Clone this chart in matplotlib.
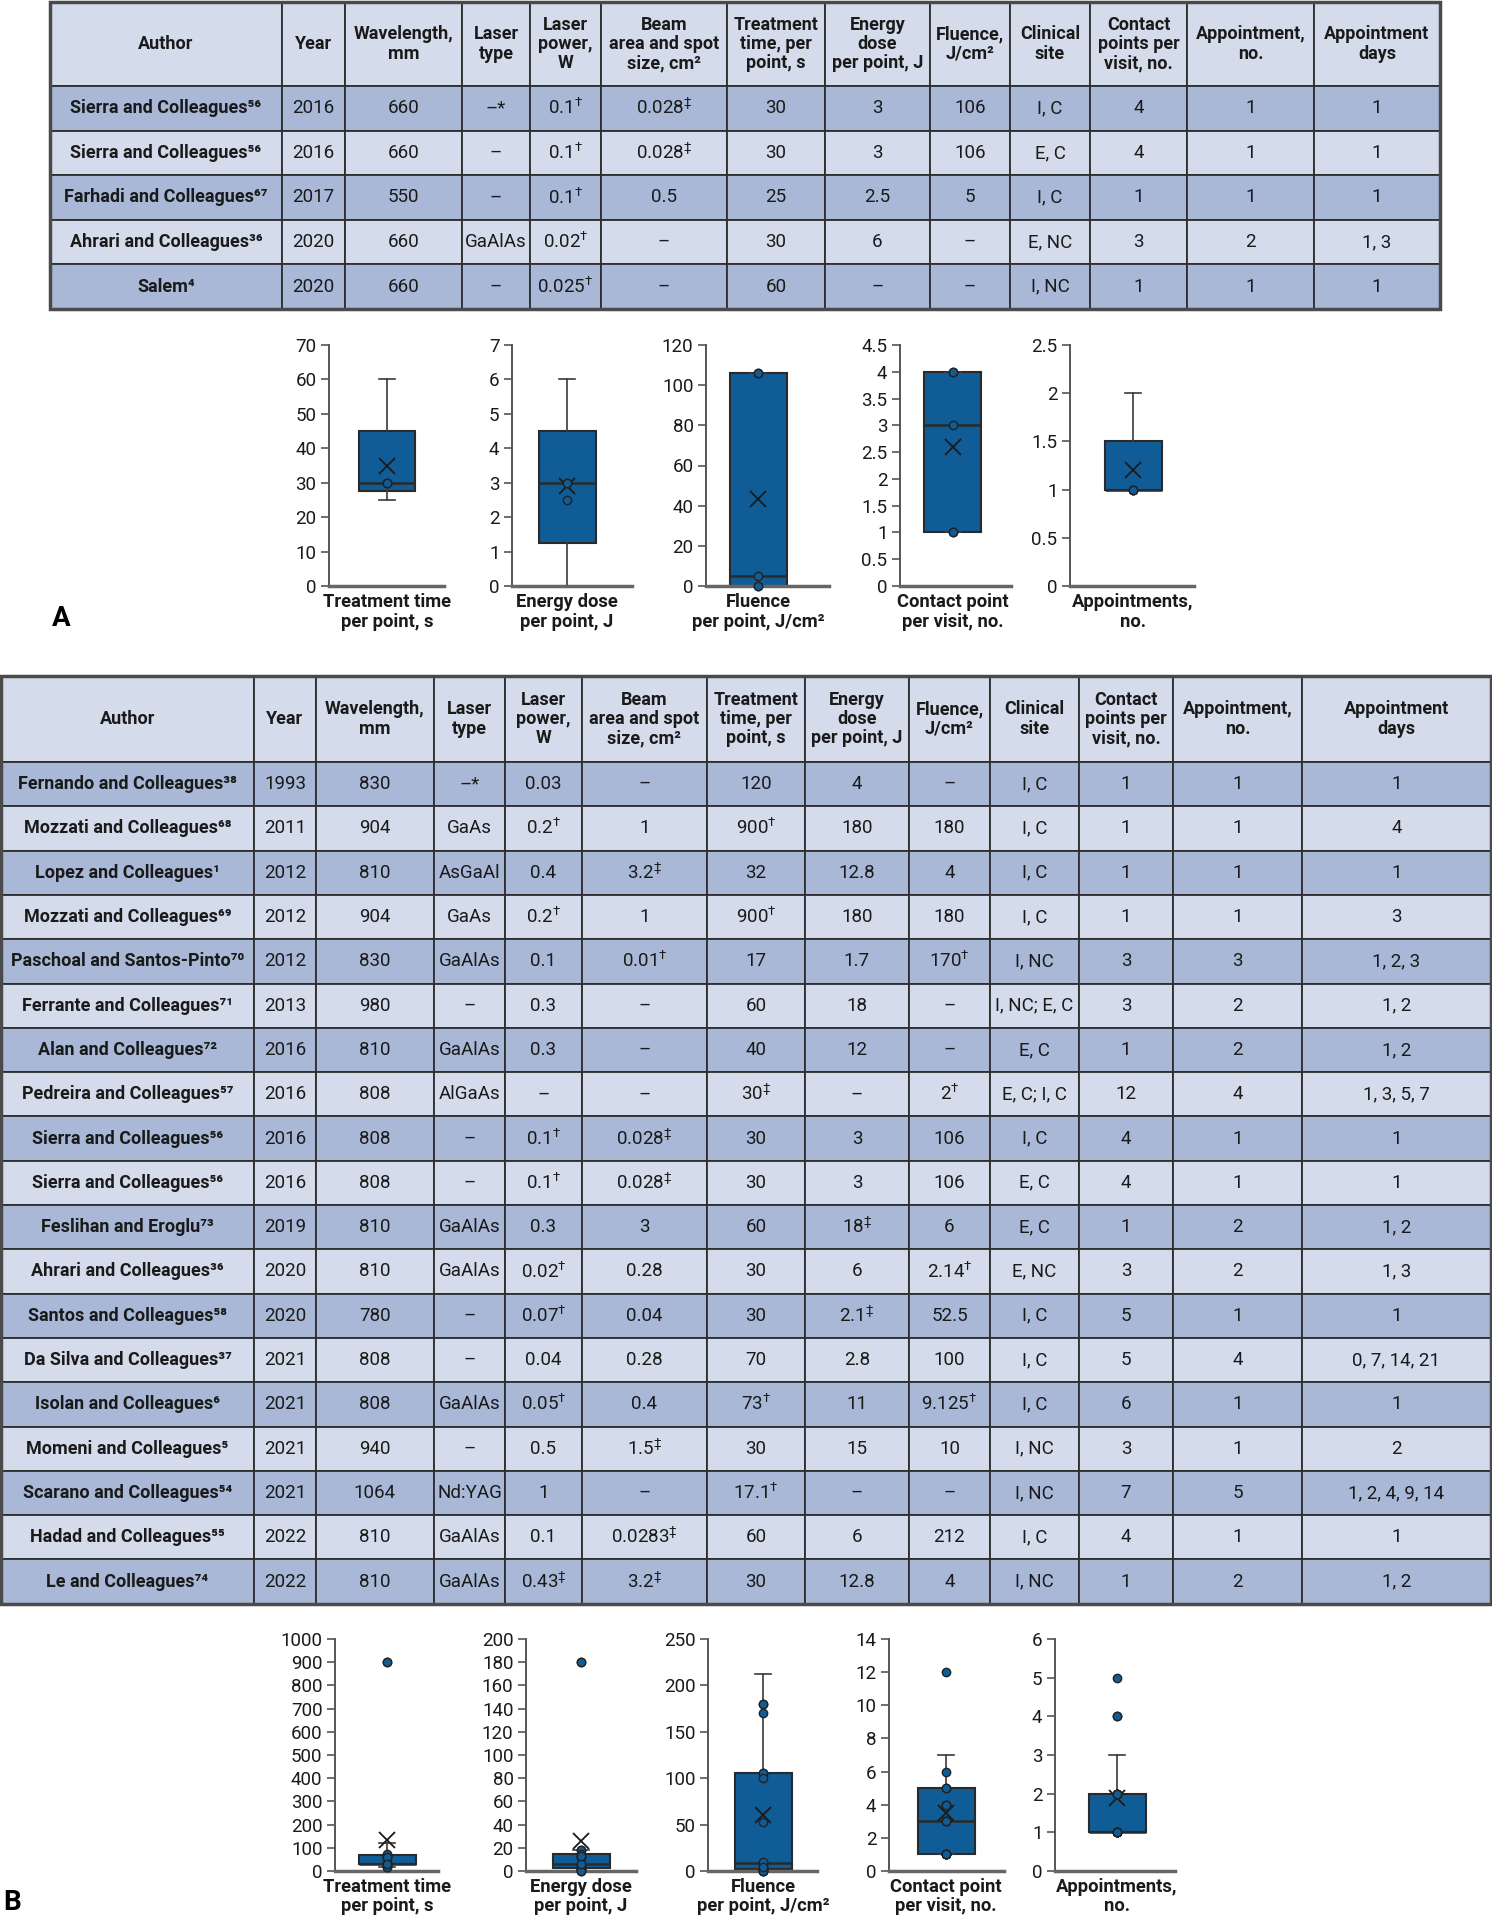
import numpy as np
import matplotlib
matplotlib.use("Agg")
import matplotlib.pyplot as plt
from matplotlib.patches import Rectangle

plt.rcParams['font.family'] = ['Roboto', 'DejaVu Sans']
plt.rcParams['mathtext.fontset'] = 'custom'
plt.rcParams['mathtext.rm'] = 'Roboto'
plt.rcParams['mathtext.default'] = 'regular'

W, H = 1492, 1920

LIGHT = '#d4dceb'
DARK = '#a8b8d6'
EDGE = '#2e2e2e'
BORDER = '#4a4a4a'
BOX = '#0f5c96'

HEADERS = ["Author", "Year", "Wavelength,\nmm", "Laser\ntype", "Laser\npower,\nW",
           "Beam\narea and spot\nsize, cm²", "Treatment\ntime, per\npoint, s",
           "Energy\ndose\nper point, J", "Fluence,\nJ/cm²", "Clinical\nsite",
           "Contact\npoints per\nvisit, no.", "Appointment,\nno.", "Appointment\ndays"]

# ---- table A (660 nm group) ----
a_author = ["Sierra and Colleagues⁵⁶", "Sierra and Colleagues⁵⁶", "Farhadi and Colleagues⁶⁷",
            "Ahrari and Colleagues³⁶", "Salem⁴"]
a_year = ["2016", "2016", "2017", "2020", "2020"]
a_wave = ["660", "660", "550", "660", "660"]
a_type = ["–*", "–", "–", "GaAlAs", "–"]
a_power = ["0.1†", "0.1†", "0.1†", "0.02†", "0.025†"]
a_beam = ["0.028‡", "0.028‡", "0.5", "–", "–"]
a_time = ["30", "30", "25", "30", "60"]
a_energy = ["3", "3", "2.5", "6", "–"]
a_fluence = ["106", "106", "5", "–", "–"]
a_site = ["I, C", "E, C", "I, C", "E, NC", "I, NC"]
a_contact = ["4", "4", "1", "3", "1"]
a_appt = ["1", "1", "1", "2", "1"]
a_days = ["1", "1", "1", "1, 3", "1"]

# ---- table B (infrared group) ----
b_author = ["Fernando and Colleagues³⁸", "Mozzati and Colleagues⁶⁸", "Lopez and Colleagues¹",
            "Mozzati and Colleagues⁶⁹", "Paschoal and Santos-Pinto⁷⁰", "Ferrante and Colleagues⁷¹",
            "Alan and Colleagues⁷²", "Pedreira and Colleagues⁵⁷", "Sierra and Colleagues⁵⁶",
            "Sierra and Colleagues⁵⁶", "Feslihan and Eroglu⁷³", "Ahrari and Colleagues³⁶",
            "Santos and Colleagues⁵⁸", "Da Silva and Colleagues³⁷", "Isolan and Colleagues⁶",
            "Momeni and Colleagues⁵", "Scarano and Colleagues⁵⁴", "Hadad and Colleagues⁵⁵",
            "Le and Colleagues⁷⁴"]
b_year = ["1993", "2011", "2012", "2012", "2012", "2013", "2016", "2016", "2016", "2016",
          "2019", "2020", "2020", "2021", "2021", "2021", "2021", "2022", "2022"]
b_wave = ["830", "904", "810", "904", "830", "980", "810", "808", "808", "808",
          "810", "810", "780", "808", "808", "940", "1064", "810", "810"]
b_type = ["–*", "GaAs", "AsGaAl", "GaAs", "GaAlAs", "–", "GaAlAs", "AlGaAs", "–", "–",
          "GaAlAs", "GaAlAs", "–", "–", "GaAlAs", "–", "Nd:YAG", "GaAlAs", "GaAlAs"]
b_power = ["0.03", "0.2†", "0.4", "0.2†", "0.1", "0.3", "0.3", "–", "0.1†", "0.1†",
           "0.3", "0.02†", "0.07†", "0.04", "0.05†", "0.5", "1", "0.1", "0.43‡"]
b_beam = ["–", "1", "3.2‡", "1", "0.01†", "–", "–", "–", "0.028‡", "0.028‡",
          "3", "0.28", "0.04", "0.28", "0.4", "1.5‡", "–", "0.0283‡", "3.2‡"]
b_time = ["120", "900†", "32", "900†", "17", "60", "40", "30‡", "30", "30",
          "60", "30", "30", "70", "73†", "30", "17.1†", "60", "30"]
b_energy = ["4", "180", "12.8", "180", "1.7", "18", "12", "–", "3", "3",
            "18‡", "6", "2.1‡", "2.8", "11", "15", "–", "6", "12.8"]
b_fluence = ["–", "180", "4", "180", "170†", "–", "–", "2†", "106", "106",
             "6", "2.14†", "52.5", "100", "9.125†", "10", "–", "212", "4"]
b_site = ["I, C", "I, C", "I, C", "I, C", "I, NC", "I, NC; E, C", "E, C", "E, C; I, C", "I, C", "E, C",
          "E, C", "E, NC", "I, C", "I, C", "I, C", "I, NC", "I, NC", "I, C", "I, NC"]
b_contact = ["1", "1", "1", "1", "3", "3", "1", "12", "4", "4",
             "1", "3", "5", "5", "6", "3", "7", "4", "1"]
b_appt = ["1", "1", "1", "1", "3", "2", "2", "4", "1", "1",
          "2", "2", "1", "4", "1", "1", "5", "1", "2"]
b_days = ["1", "4", "1", "3", "1, 2, 3", "1, 2", "1, 2", "1, 3, 5, 7", "1", "1",
          "1, 2", "1, 3", "1", "0, 7, 14, 21", "1", "2", "1, 2, 4, 9, 14", "1", "1, 2"]

BOX_LABELS = ["Treatment time\nper point, s", "Energy dose\nper point, J",
              "Fluence\nper point, J/cm²", "Contact point\nper visit, no.",
              "Appointments,\nno."]


def num(s):
    s = s.rstrip('†‡*')
    return 0.0 if s.startswith('–') else float(s)


def fmt(s):
    return s.replace('†', r'$^{\dagger}$').replace('‡', r'$^{\ddagger}$')


fig = plt.figure(figsize=(W / 100, H / 100), dpi=100)
base = fig.add_axes([0, 0, 1, 1])
base.set_xlim(0, W)
base.set_ylim(H, 0)
base.axis('off')


def make_table(cols, xs, top, head_h, row_h):
    rows = [[fmt(v) for v in r] for r in zip(*cols)]
    n = len(rows)
    fills = [[DARK if i % 2 == 0 else LIGHT] * len(HEADERS) for i in range(n)]
    total = head_h + n * row_h
    bbox = [xs[0] / W, 1 - (top + total) / H, (xs[-1] - xs[0]) / W, total / H]
    tb = base.table(cellText=rows, colLabels=HEADERS, cellColours=fills,
                    colColours=[LIGHT] * len(HEADERS),
                    colWidths=list(np.diff(xs) / W), cellLoc='center', bbox=bbox)
    tb.auto_set_font_size(False)
    for (r, c), cell in tb.get_celld().items():
        cell.set_height((head_h if r == 0 else row_h) / H)
        cell.set_edgecolor(EDGE)
        cell.set_linewidth(1.3)
        t = cell.get_text()
        t.set_linespacing(1.1)
        t.set_color('#1a1a1a')
        if r == 0:
            t.set_fontsize(13)
            t.set_fontweight('bold')
        elif c == 0:
            t.set_fontsize(13)
            t.set_fontweight('semibold')
        else:
            t.set_fontsize(13.5)
    base.add_patch(Rectangle((xs[0], top), xs[-1] - xs[0], total, fill=False,
                             lw=2.5, ec=BORDER, zorder=5))


def box_panel(L, C, R, top, bottom, col, ymax, step, label):
    ax = fig.add_axes([L / W, 1 - bottom / H, (R - L) / W, (bottom - top) / H])
    vals = np.array([num(v) for v in col])
    q1, med, q3 = np.percentile(vals, [25, 50, 75], method='weibull')
    iqr = q3 - q1
    lo = vals[vals >= q1 - 1.5 * iqr].min()
    hi = vals[vals <= q3 + 1.5 * iqr].max()
    pos = (C - L) / (R - L)
    stats = dict(med=med, q1=q1, q3=q3, whislo=lo, whishi=hi, mean=vals.mean(),
                 fliers=vals[(vals < lo) | (vals > hi)])
    ax.bxp([stats], positions=[pos], widths=57 / (R - L), capwidths=[16 / (R - L)],
           patch_artist=True, showmeans=True,
           boxprops=dict(facecolor=BOX, edgecolor='#2a2a2a', lw=1.5),
           medianprops=dict(color='#2a2a2a', lw=1.8),
           whiskerprops=dict(color='#3a3a3a', lw=1.2),
           capprops=dict(color='#3a3a3a', lw=1.2),
           meanprops=dict(marker='x', markeredgecolor='#1a1a1a', markersize=11, mew=1.3),
           flierprops=dict(marker='o', markerfacecolor=BOX, markeredgecolor='#222222',
                           markersize=6, mew=1.0))
    # inner points; ones sitting on the end of a visible whisker stay hidden by the cap
    inner = vals[(vals >= lo) & (vals <= hi)]
    long_lo = (q1 - lo) > 0.03 * ymax
    long_hi = (hi - q3) > 0.03 * ymax
    keep = ~((inner == lo) & long_lo) & ~((inner == hi) & long_hi)
    ax.plot(np.full(keep.sum(), pos), inner[keep], 'o', mfc=BOX, mec='#222222',
            ms=6, mew=1.0, zorder=4, clip_on=False)
    ax.set_xlim(0, 1)
    ax.set_ylim(0, ymax)
    ticks = np.arange(0, ymax + step / 2, step)
    ax.set_yticks(ticks)
    ax.set_yticklabels([f'{t:g}' for t in ticks])
    ax.set_xticks([])
    for s in ['top', 'right']:
        ax.spines[s].set_visible(False)
    ax.spines['left'].set_color('#555555')
    ax.spines['left'].set_linewidth(1.4)
    ax.spines['bottom'].set_color('#666666')
    ax.spines['bottom'].set_linewidth(2.5)
    ax.tick_params(axis='y', length=6, width=1.2, color='#555555', labelsize=13.5,
                   labelcolor='#1a1a1a', pad=3)
    ax.text(pos, -0.03, label, transform=ax.transAxes, ha='center', va='top',
            fontsize=13.2, fontweight='bold', color='#1a1a1a', linespacing=1.1)
    return ax


# tables
make_table([a_author, a_year, a_wave, a_type, a_power, a_beam, a_time, a_energy,
            a_fluence, a_site, a_contact, a_appt, a_days],
           np.array([50, 282, 345, 462, 530, 601, 727, 825, 930, 1010, 1090, 1187, 1314, 1440]),
           2, 84, 44.6)
make_table([b_author, b_year, b_wave, b_type, b_power, b_beam, b_time, b_energy,
            b_fluence, b_site, b_contact, b_appt, b_days],
           np.array([1, 254, 316, 434, 505, 582, 707, 805, 909, 990, 1079, 1173, 1302, 1491]),
           676, 86, 44.3)

# box plots, panel A
a_cols = [a_time, a_energy, a_fluence, a_contact, a_appt]
a_lim = [(70, 10), (7, 1), (120, 20), (4.5, 0.5), (2.5, 0.5)]
a_L = [329, 512, 706, 900, 1070]
a_C = [387, 567, 758, 953, 1133]
a_R = [444, 632, 829, 1011, 1194]
for i in range(5):
    box_panel(a_L[i], a_C[i], a_R[i], 345, 586, a_cols[i], a_lim[i][0], a_lim[i][1],
              BOX_LABELS[i])

# box plots, panel B
b_cols = [b_time, b_energy, b_fluence, b_contact, b_appt]
b_lim = [(1000, 100), (200, 20), (250, 50), (14, 2), (6, 1)]
b_L = [335, 526, 708, 889, 1055]
b_C = [387, 581, 763, 946, 1117]
b_R = [438, 636, 817, 1004, 1175]
for i in range(5):
    box_panel(b_L[i], b_C[i], b_R[i], 1639, 1871, b_cols[i], b_lim[i][0], b_lim[i][1],
              BOX_LABELS[i])

base.text(61, 619, 'A', fontsize=20, fontweight='bold', ha='center', va='center')
base.text(12, 1902, 'B', fontsize=20, fontweight='bold', ha='center', va='center')

fig.savefig('out.png', dpi=100)
